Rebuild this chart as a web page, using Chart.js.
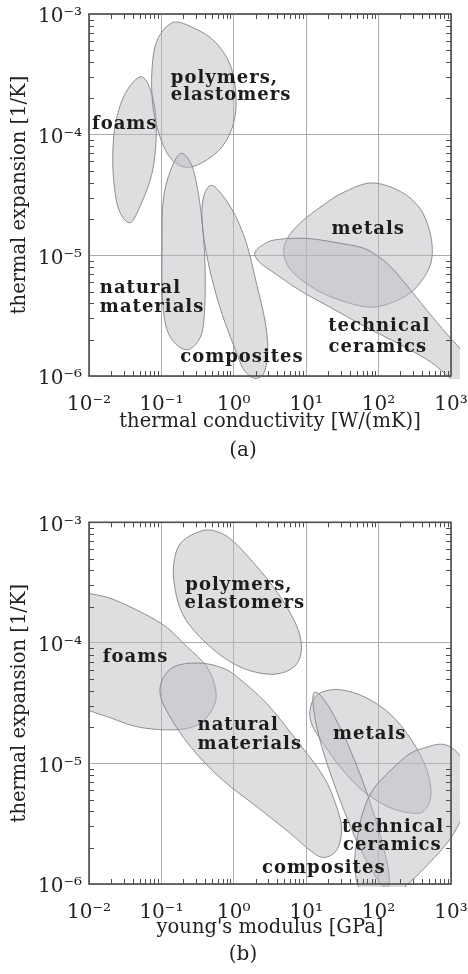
<!DOCTYPE html>
<html><head><meta charset="utf-8">
<script src="https://cdn.jsdelivr.net/npm/chart.js@4"></script>
<style>
html,body{margin:0;padding:0;background:#fff;}
#wrap{position:relative;width:468px;height:974px;overflow:hidden;background:#fff;}
canvas{position:absolute;left:0;}
.cap{position:absolute;left:0;width:486px;text-align:center;font-family:"DejaVu Serif",serif;font-size:20px;line-height:24px;color:#222;}
</style></head><body>
<div id="wrap">
<canvas id="ca" width="468" height="487" style="top:0"></canvas>
<canvas id="cb" width="468" height="487" style="top:487px"></canvas>
<div class="cap" style="top:437px">(a)</div>
<div class="cap" style="top:941px">(b)</div>
</div>
<script>
// ---- axes ----
const xTickValues = [1e-2, 1e-1, 1e0, 1e1, 1e2, 1e3];
const xTickLabels = ['10⁻²', '10⁻¹', '10⁰', '10¹', '10²', '10³'];
const yTickValues = [1e-6, 1e-5, 1e-4, 1e-3];
const yTickLabels = ['10⁻⁶', '10⁻⁵', '10⁻⁴', '10⁻³'];
const xTitleA = 'thermal conductivity [W/(mK)]';
const xTitleB = "young's modulus [GPa]";
const yTitle = 'thermal expansion [1/K]';

// ---- (a) region outlines, [log10 conductivity, log10 expansion] ----
const foamsA = [[-1.27,-3.52],[-1.11,-3.71],[-1.07,-3.99],[-1.13,-4.32],[-1.30,-4.60],[-1.44,-4.73],[-1.60,-4.60],[-1.67,-4.27],[-1.64,-3.93],[-1.50,-3.66]];
const polymersA = [[-0.84,-3.07],[-0.54,-3.12],[-0.26,-3.23],[-0.05,-3.42],[0.03,-3.67],[0.00,-3.90],[-0.16,-4.10],[-0.43,-4.23],[-0.67,-4.27],[-0.88,-4.19],[-1.03,-4.00],[-1.12,-3.75],[-1.13,-3.46],[-1.06,-3.22]];
const naturalA = [[-0.75,-4.16],[-0.60,-4.23],[-0.51,-4.42],[-0.44,-4.71],[-0.40,-5.04],[-0.40,-5.41],[-0.45,-5.66],[-0.62,-5.78],[-0.81,-5.73],[-0.94,-5.58],[-0.99,-5.29],[-0.99,-4.87],[-0.98,-4.58],[-0.91,-4.36]];
const compositesA = [[-0.31,-4.42],[-0.16,-4.50],[0.02,-4.67],[0.18,-4.91],[0.32,-5.25],[0.43,-5.54],[0.47,-5.78],[0.42,-5.97],[0.29,-6.02],[0.14,-5.95],[0.02,-5.78],[-0.16,-5.49],[-0.30,-5.20],[-0.40,-4.91],[-0.44,-4.67],[-0.41,-4.50]];
const metalsA = [[1.90,-4.40],[2.30,-4.47],[2.57,-4.61],[2.71,-4.81],[2.74,-5.00],[2.67,-5.14],[2.48,-5.29],[2.23,-5.38],[1.92,-5.43],[1.56,-5.39],[1.15,-5.29],[0.80,-5.13],[0.69,-4.98],[0.75,-4.85],[0.94,-4.72],[1.22,-4.59],[1.51,-4.48]];
const ceramicsA = [[0.29,-4.98],[0.41,-4.91],[0.59,-4.87],[1.01,-4.86],[1.47,-4.90],[1.79,-4.94],[1.97,-5.00],[2.16,-5.09],[2.39,-5.25],[2.66,-5.45],[2.94,-5.65],[3.12,-5.77],[3.29,-5.91],[3.40,-6.07],[3.26,-6.16],[2.99,-6.02],[2.71,-5.88],[2.30,-5.74],[1.81,-5.59],[1.33,-5.43],[0.91,-5.29],[0.57,-5.15],[0.36,-5.06]];

// ---- (b) region outlines, [log10 modulus, log10 expansion] ----
const foamsB = [[-2.00,-3.59],[-1.62,-3.65],[-1.00,-3.84],[-0.65,-4.03],[-0.37,-4.20],[-0.25,-4.39],[-0.28,-4.53],[-0.47,-4.67],[-0.79,-4.72],[-1.30,-4.70],[-1.76,-4.61],[-2.00,-4.56],[-2.40,-4.46],[-2.68,-4.18],[-2.68,-3.77],[-2.40,-3.55]];
const polymersB = [[-0.44,-3.07],[-0.22,-3.08],[-0.02,-3.15],[0.22,-3.30],[0.50,-3.50],[0.73,-3.70],[0.90,-3.91],[0.93,-4.08],[0.83,-4.20],[0.57,-4.26],[0.22,-4.23],[-0.12,-4.13],[-0.47,-3.95],[-0.70,-3.77],[-0.81,-3.56],[-0.83,-3.35],[-0.73,-3.17]];
const naturalB = [[-0.42,-4.17],[-0.15,-4.21],[0.04,-4.28],[0.45,-4.50],[0.87,-4.81],[1.24,-5.11],[1.42,-5.36],[1.49,-5.55],[1.42,-5.72],[1.24,-5.78],[1.05,-5.72],[0.78,-5.58],[0.32,-5.36],[-0.15,-5.14],[-0.60,-4.86],[-0.93,-4.56],[-1.02,-4.39],[-0.93,-4.25],[-0.74,-4.18]];
const metalsB = [[1.05,-4.57],[1.11,-4.46],[1.26,-4.40],[1.49,-4.39],[1.81,-4.45],[2.16,-4.59],[2.46,-4.81],[2.67,-5.06],[2.72,-5.28],[2.61,-5.40],[2.43,-5.41],[2.13,-5.36],[1.77,-5.22],[1.47,-5.03],[1.22,-4.82],[1.08,-4.68]];
const compositesB = [[2.12,-6.03],[2.14,-5.90],[2.02,-5.59],[1.80,-5.18],[1.53,-4.78],[1.28,-4.50],[1.12,-4.41],[1.10,-4.54],[1.21,-4.85],[1.44,-5.26],[1.71,-5.66],[1.96,-5.94]];
const ceramicsB = [[2.85,-4.84],[3.01,-4.87],[3.15,-4.96],[3.23,-5.10],[3.23,-5.31],[3.12,-5.49],[2.96,-5.65],[2.71,-5.82],[2.46,-5.97],[2.23,-6.08],[1.95,-6.11],[1.74,-6.04],[1.67,-5.85],[1.70,-5.64],[1.78,-5.41],[1.92,-5.22],[2.16,-5.06],[2.43,-4.92],[2.64,-4.87]];

// ---- region names (label text) ----
const labelsA = [
  {text:'polymers,', x:-0.87, y:-3.57, align:'left'},
  {text:'elastomers', x:-0.87, y:-3.71, align:'left'},
  {text:'foams', x:-1.96, y:-3.95, align:'left'},
  {text:'metals', x:1.35, y:-4.82, align:'left'},
  {text:'natural', x:-1.85, y:-5.31, align:'left'},
  {text:'materials', x:-1.85, y:-5.47, align:'left'},
  {text:'composites', x:-0.74, y:-5.88, align:'left'},
  {text:'technical', x:2.01, y:-5.63, align:'center'},
  {text:'ceramics', x:1.99, y:-5.80, align:'center'}
];
const labelsB = [
  {text:'polymers,', x:-0.67, y:-3.56, align:'left'},
  {text:'elastomers', x:-0.68, y:-3.71, align:'left'},
  {text:'foams', x:-1.81, y:-4.16, align:'left'},
  {text:'natural', x:-0.50, y:-4.72, align:'left'},
  {text:'materials', x:-0.50, y:-4.88, align:'left'},
  {text:'metals', x:1.37, y:-4.80, align:'left'},
  {text:'technical', x:2.20, y:-5.57, align:'center'},
  {text:'ceramics', x:2.19, y:-5.72, align:'center'},
  {text:'composites', x:0.39, y:-5.91, align:'left'}
];

const FILL = 'rgba(186,186,192,0.48)';
const EDGE = 'rgba(130,130,136,0.9)';
const FRAME = '#4d4d4d';
const CLIP_RIGHT = 460;

const regionPlugin = {
  id: 'regions',
  beforeDatasetsDraw(chart) {
    const {ctx, chartArea: a} = chart;
    ctx.save();
    ctx.beginPath();
    ctx.rect(a.left, 0, CLIP_RIGHT - a.left, a.bottom + 3);
    ctx.clip();
    chart.data.datasets.forEach((ds, i) => {
      const pts = chart.getDatasetMeta(i).data.map(p => [p.x, p.y]);
      const n = pts.length;
      ctx.beginPath();
      ctx.moveTo(pts[0][0], pts[0][1]);
      for (let k = 0; k < n; k++) {
        const p0 = pts[(k - 1 + n) % n], p1 = pts[k], p2 = pts[(k + 1) % n], p3 = pts[(k + 2) % n];
        ctx.bezierCurveTo(
          p1[0] + (p2[0] - p0[0]) / 6, p1[1] + (p2[1] - p0[1]) / 6,
          p2[0] - (p3[0] - p1[0]) / 6, p2[1] - (p3[1] - p1[1]) / 6,
          p2[0], p2[1]);
      }
      ctx.closePath();
      ctx.fillStyle = FILL;
      ctx.fill();
      ctx.lineWidth = 1;
      ctx.strokeStyle = EDGE;
      ctx.stroke();
    });
    ctx.restore();
  },
  afterDatasetsDraw(chart, args, opts) {
    const {ctx, chartArea: a, scales: {x, y}} = chart;
    ctx.save();
    // minor ticks on all four sides
    ctx.strokeStyle = FRAME;
    ctx.lineWidth = 1;
    ctx.beginPath();
    for (let d = -2; d < 3; d++) {
      for (let m = 2; m < 10; m++) {
        const px = Math.round(x.getPixelForValue(m * Math.pow(10, d))) + 0.5;
        ctx.moveTo(px, a.bottom); ctx.lineTo(px, a.bottom - 5);
        ctx.moveTo(px, a.top); ctx.lineTo(px, a.top + 5);
      }
    }
    for (let d = -6; d < -3; d++) {
      for (let m = 2; m < 10; m++) {
        const py = Math.round(y.getPixelForValue(m * Math.pow(10, d))) + 0.5;
        ctx.moveTo(a.left, py); ctx.lineTo(a.left + 5, py);
        ctx.moveTo(a.right, py); ctx.lineTo(a.right - 5, py);
      }
    }
    ctx.stroke();
    // frame
    ctx.lineWidth = 1.6;
    ctx.strokeRect(a.left, a.top, a.right - a.left, a.bottom - a.top);
    // region names
    ctx.fillStyle = '#1c1c1c';
    ctx.font = 'bold 18px "DejaVu Serif"';
    try { ctx.letterSpacing = '1px'; } catch (e) {}
    ctx.textBaseline = 'alphabetic';
    (opts.labels || []).forEach(l => {
      ctx.textAlign = l.align;
      ctx.fillText(l.text, x.getPixelForValue(Math.pow(10, l.x)), y.getPixelForValue(Math.pow(10, l.y)));
    });
    ctx.restore();
  }
};

const tickFont = {family: 'DejaVu Serif', size: 20};
const titleFont = {family: 'DejaVu Serif', size: 19.5};

function makeChart(id, regions, labels, xTitle, padTop, xScaleHeight, xTitlePad) {
  return new Chart(document.getElementById(id), {
    type: 'scatter',
    data: {
      datasets: regions.map(r => ({
        label: r[0],
        data: r[1].map(p => ({x: Math.pow(10, p[0]), y: Math.pow(10, p[1])})),
        pointRadius: 0, pointHoverRadius: 0, showLine: false
      }))
    },
    options: {
      responsive: false, animation: false, devicePixelRatio: 1, events: [],
      layout: {padding: {top: padTop, right: 17, left: 0, bottom: 0}},
      plugins: {legend: {display: false}, tooltip: {enabled: false}, regions: {labels}},
      scales: {
        x: {
          type: 'logarithmic', position: 'bottom', min: 1e-2, max: 1e3,
          afterBuildTicks: s => { s.ticks = xTickValues.map(v => ({value: v})); },
          afterFit: s => { s.height = xScaleHeight; s.paddingLeft = 0; s.paddingRight = 0; },
          ticks: {callback: (v, i) => xTickLabels[i], padding: 17, maxRotation: 0, autoSkip: false, font: tickFont, color: '#222'},
          grid: {color: '#ababab', lineWidth: 1, drawTicks: false},
          border: {display: false},
          title: {display: true, text: xTitle, font: titleFont, color: '#222', padding: {top: 0, bottom: xTitlePad}}
        },
        y: {
          type: 'logarithmic', position: 'left', min: 1e-6, max: 1e-3,
          afterBuildTicks: s => { s.ticks = yTickValues.map(v => ({value: v})); },
          afterFit: s => { s.width = 89; s.paddingTop = 0; s.paddingBottom = 0; },
          ticks: {callback: (v, i) => yTickLabels[i], padding: 7, labelOffset: 3, autoSkip: false, font: tickFont, color: '#222'},
          grid: {color: '#ababab', lineWidth: 1, drawTicks: false},
          border: {display: false},
          title: {display: true, text: yTitle, font: titleFont, color: '#222', padding: {top: 8.7, bottom: 0}}
        }
      }
    },
    plugins: [regionPlugin]
  });
}

makeChart('ca', [
  ['foams', foamsA], ['polymers, elastomers', polymersA], ['natural materials', naturalA],
  ['composites', compositesA], ['metals', metalsA], ['technical ceramics', ceramicsA]
], labelsA, xTitleA, 14, 111, 53.8);

makeChart('cb', [
  ['foams', foamsB], ['polymers, elastomers', polymersB], ['natural materials', naturalB],
  ['metals', metalsB], ['composites', compositesB], ['technical ceramics', ceramicsB]
], labelsB, xTitleB, 35.3, 90, 34.8);
</script>
</body></html>
